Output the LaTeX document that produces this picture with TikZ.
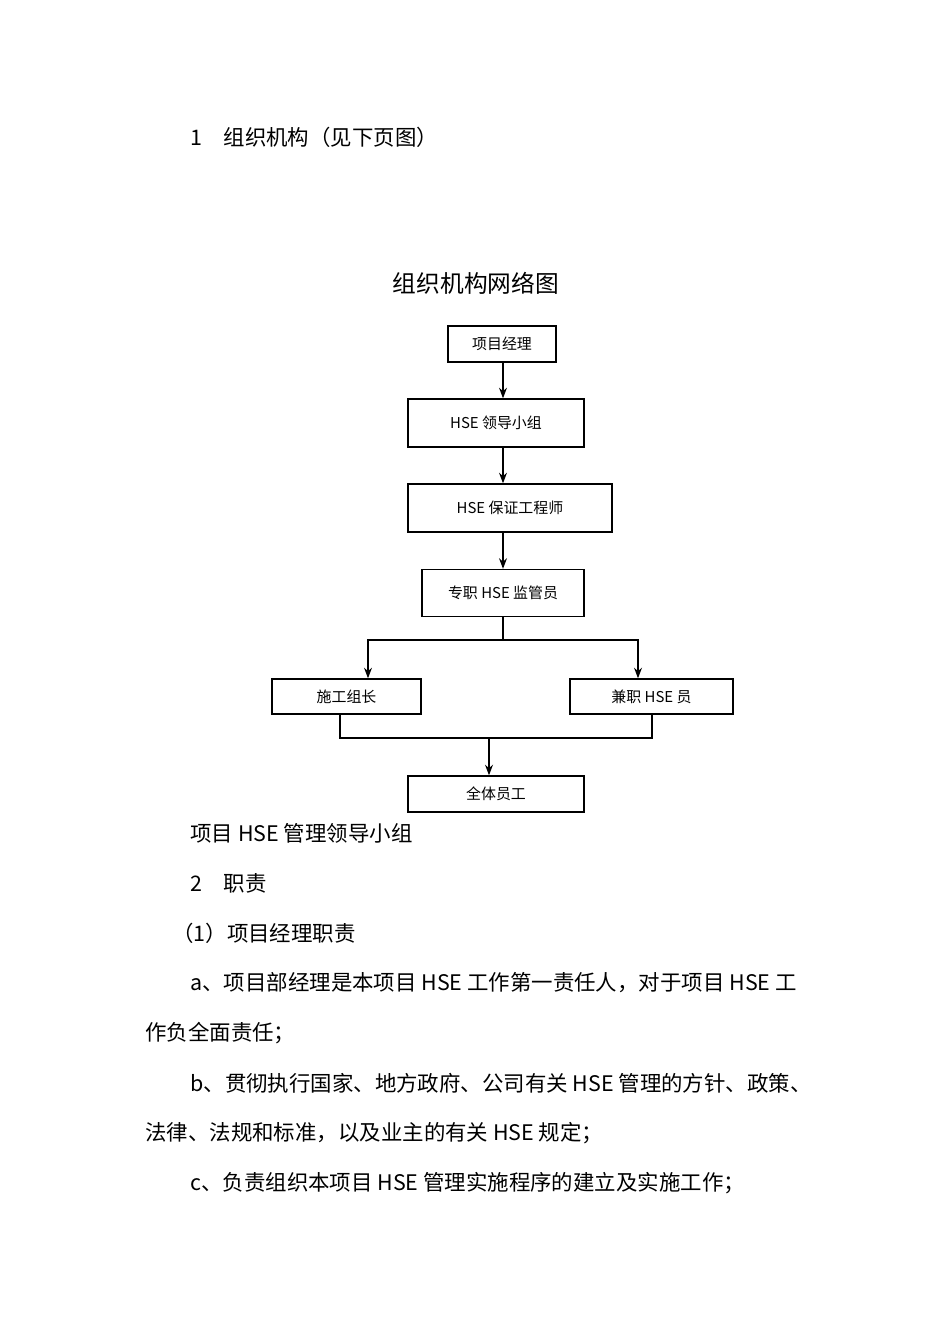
\documentclass[tikz,border=0pt]{standalone}
\usepackage{fontspec}
\usetikzlibrary{arrows.meta}
\setmainfont{Liberation Serif}
\newfontfamily\cjk{Noto Sans CJK SC}
\begin{document}
\begin{tikzpicture}[x=0.02cm,y=-0.02cm,
  bx/.style={draw,thick,minimum height=0.72cm,font=\cjk\fontsize{8.5pt}{10pt}\selectfont,inner sep=0pt},
  body/.style={anchor=west,font=\cjk\fontsize{12.2pt}{14pt}\selectfont,inner sep=0pt},
  arr/.style={-{Stealth[length=6pt]},thick}]
\useasboundingbox (0,0) rectangle (950,1344);
\node[body] (t1) at (190,137) {1\quad 组织机构（见下页图）};
\node[font=\cjk\fontsize{13.5pt}{16pt}\selectfont] (title) at (476,283) {组织机构网络图};
\node[bx,minimum width=2.16cm] (a) at (502,344) {项目经理};
\node[bx,minimum width=3.52cm,minimum height=0.96cm] (b) at (496,423) {HSE 领导小组};
\node[bx,minimum width=4.08cm,minimum height=0.96cm] (c) at (510,508) {HSE 保证工程师};
\node[bx,minimum width=3.24cm,minimum height=0.94cm] (d) at (503,593) {专职 HSE 监管员};
\node[bx,minimum width=2.98cm,minimum height=0.70cm] (e) at (346.5,696.5) {施工组长};
\node[bx,minimum width=3.26cm,minimum height=0.70cm] (f) at (651.5,696.5) {兼职 HSE 员};
\node[bx,minimum width=3.52cm,minimum height=0.72cm] (g) at (496,794) {全体员工};
\draw[arr] (a.south -| 503,0) -- (b.north -| 503,0);
\draw[arr] (b.south -| 503,0) -- (c.north -| 503,0);
\draw[arr] (c.south -| 503,0) -- (d.north -| 503,0);
\coordinate (j) at (503,640);
\draw[thick] (d.south -| j) -- (j);
\draw[arr] (j) -- (368,640) -- (e.north -| 368,0);
\draw[arr] (j) -- (638,640) -- (f.north -| 638,0);
\coordinate (k) at (489,738);
\draw[thick] (e.south -| 340,0) -- (340,738) -- (652,738) -- (f.south -| 652,0);
\draw[arr] (k) -- (g.north -| k);
\node[body] at (190,833) {项目 HSE 管理领导小组};
\node[body] at (190,883) {2\quad 职责};
\node[body] at (172,933) {（1）项目经理职责};
\node[body] at (190,983) {a、项目部经理是本项目 HSE 工作第一责任人，对于项目 HSE 工};
\node[body] at (145,1033) {作负全面责任；};
\node[body] at (190,1083) {b、贯彻执行国家、地方政府、公司有关 HSE 管理的方针、政策、};
\node[body] at (145,1133) {法律、法规和标准，以及业主的有关 HSE 规定；};
\node[body] at (190,1183) {c、负责组织本项目 HSE 管理实施程序的建立及实施工作；};
\end{tikzpicture}
\end{document}
